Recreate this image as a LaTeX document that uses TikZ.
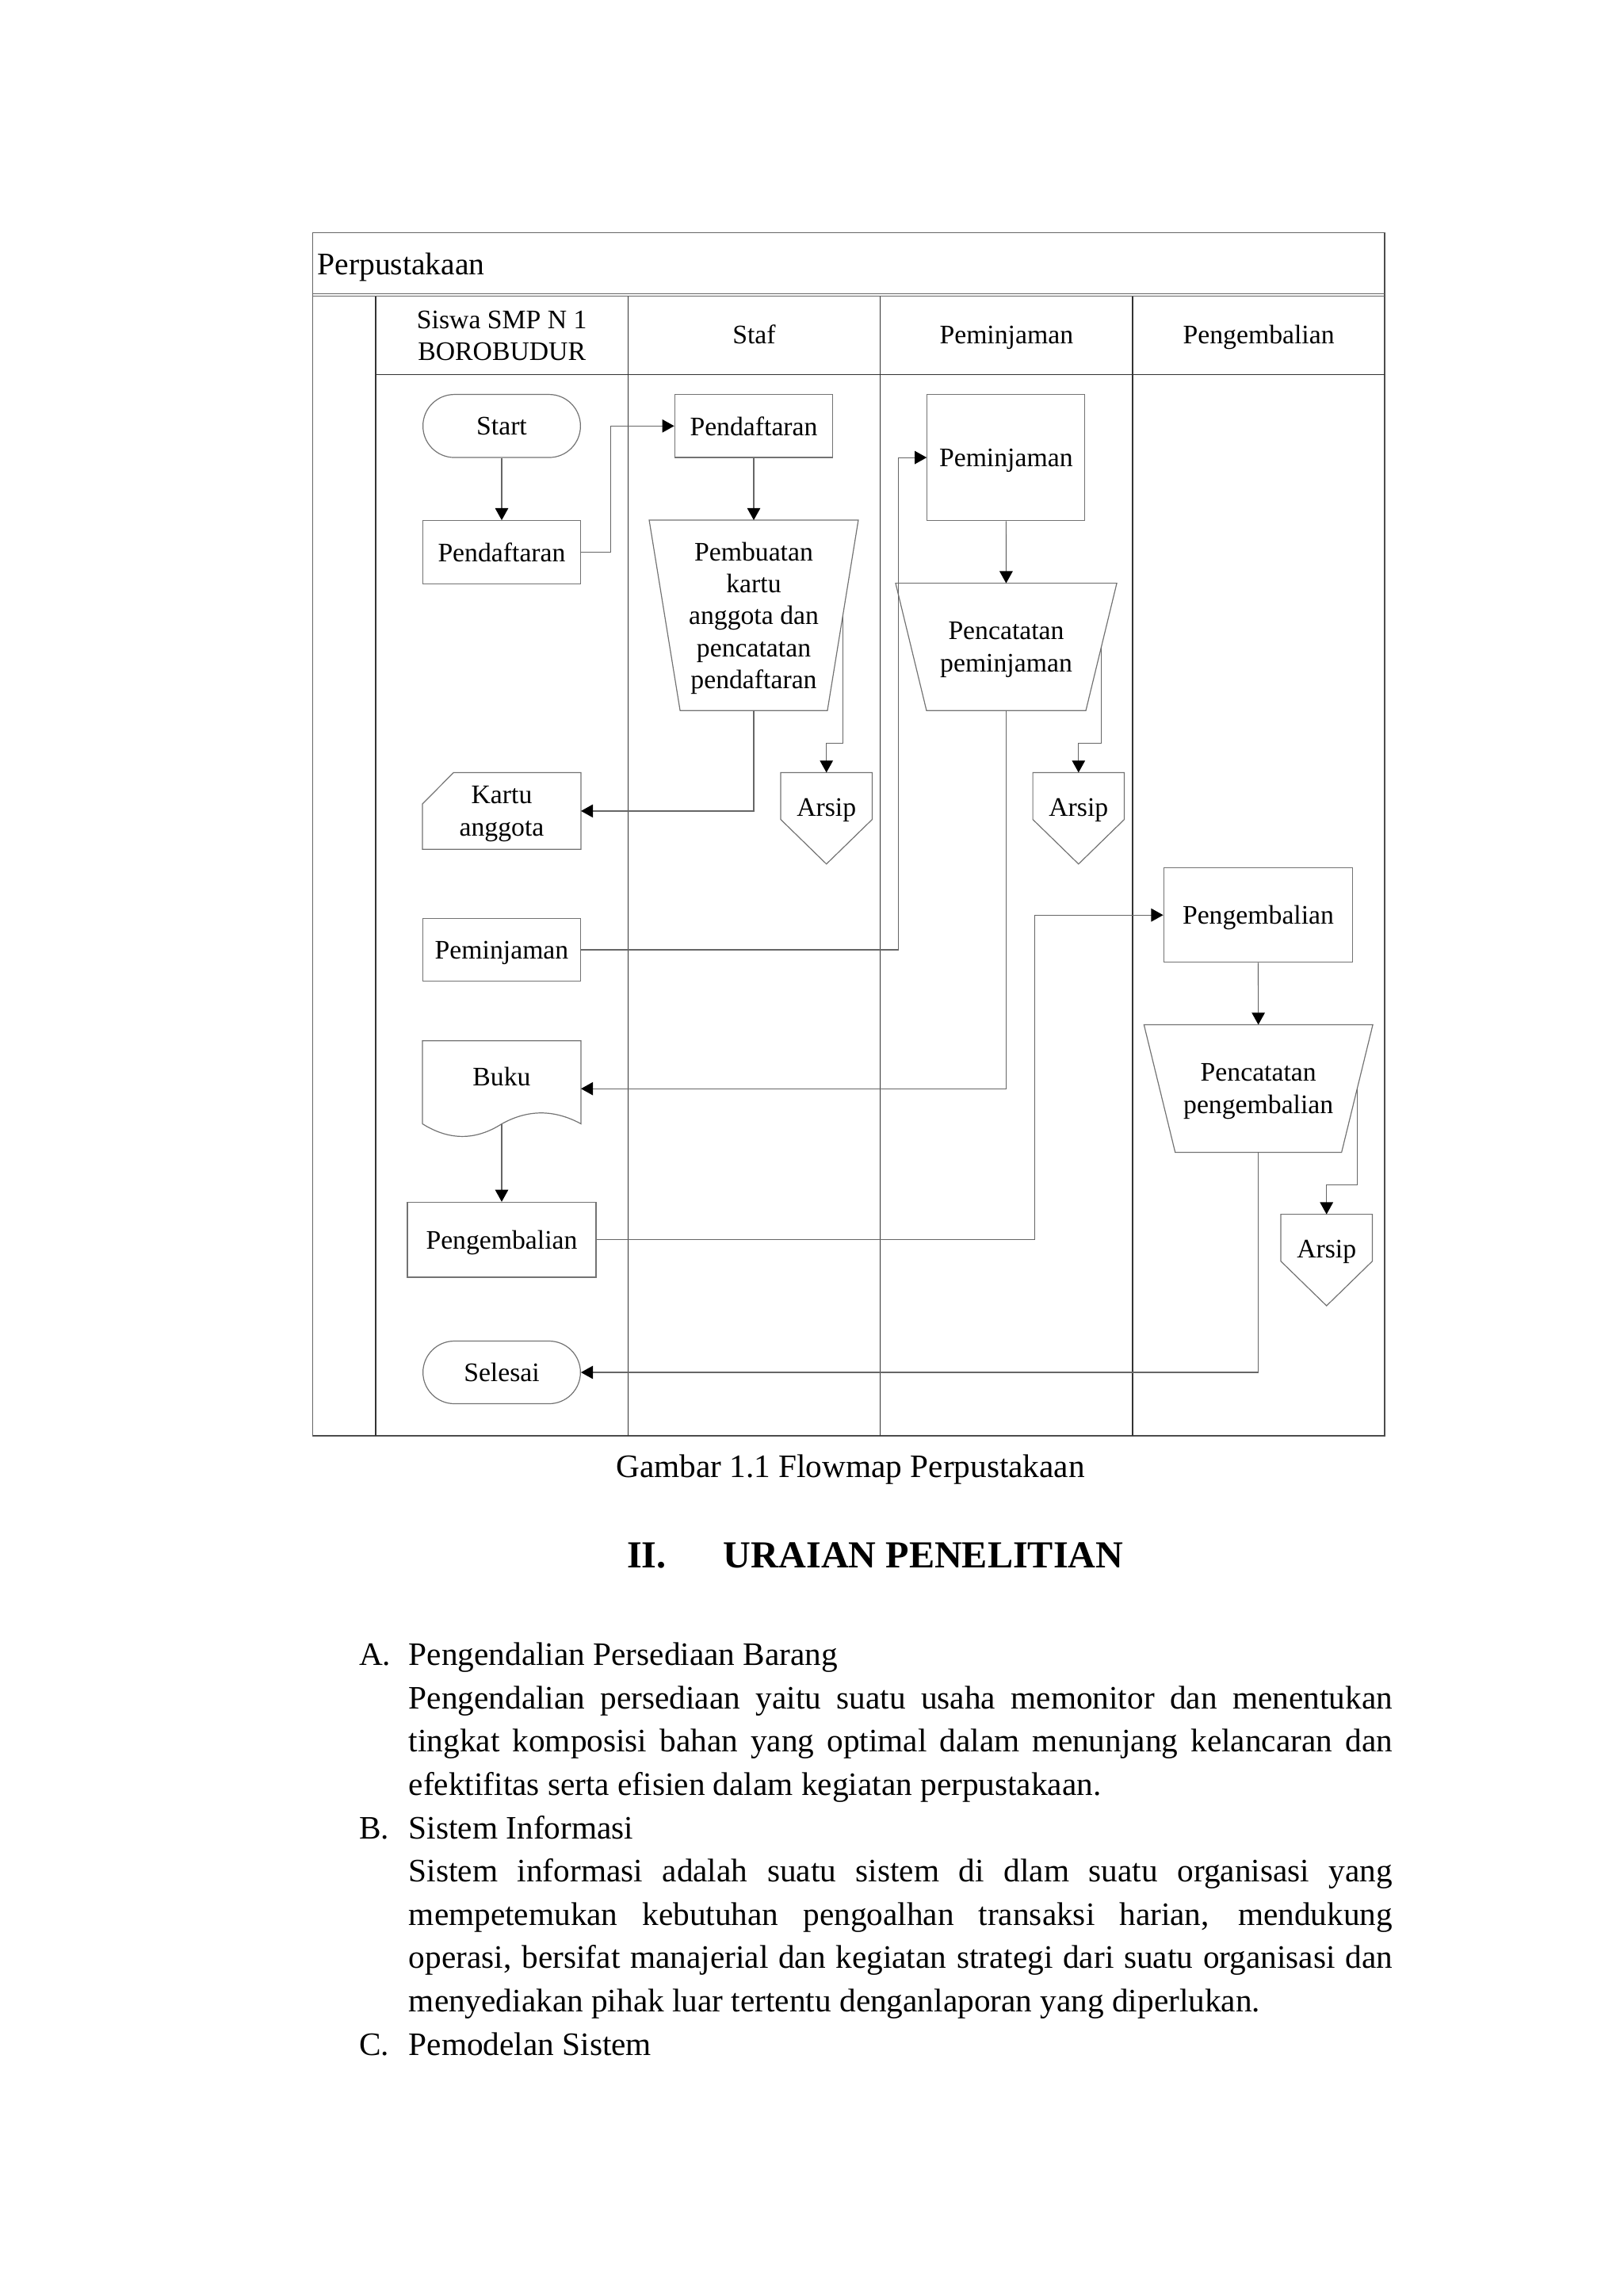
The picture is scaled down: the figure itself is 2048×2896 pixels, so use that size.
\documentclass[tikz,border=0pt]{standalone}
\usepackage{fontspec}
\setmainfont{Liberation Serif}
\usetikzlibrary{arrows.meta,calc}
\newcommand{\px}{0.29067pt}
\begin{document}
\begin{tikzpicture}[x=\px,y=-\px,
  shp/.style={draw=black!55,line width=0.35pt},
  lane/.style={draw=black!80,line width=0.45pt},
  frm/.style={draw=black!60,line width=0.45pt},
  conn/.style={draw=black!60,line width=0.35pt},
  arr/.style={conn,-{Triangle[length=4.4pt,width=4.8pt,color=black]}},
  txt/.style={font=\fontsize{9.8}{11.7}\selectfont,align=center,inner sep=0pt,text depth=0pt},
  box/.style={shp,rectangle,txt},
  term/.style={shp,rectangle,rounded corners=11.5pt,txt},
  ghost/.style={rectangle,inner sep=0pt,txt},
  body/.style={inner sep=0pt,font=\fontsize{12}{15.9}\selectfont,anchor=base west},
]
\useasboundingbox (0,0) rectangle (2048,2896);

% ---------- swimlane frame ----------
\draw[frm] (394.5,293.5) rectangle (1747,1811);
\draw[draw=black!70,line width=0.7pt] (394.5,1811) -- (1747,1811) -- (1747,293.5);
\draw[frm] (394.5,370.3) -- (1747,370.3);
\draw[frm] (394.5,373.5) -- (1747,373.5);
\draw[lane] (474,373.5) -- (474,1811);
\draw[lane] (792.3,373.5) -- (792.3,1811);
\draw[lane] (1110.6,373.5) -- (1110.6,1811);
\draw[lane] (1428.9,373.5) -- (1428.9,1811);
\draw[lane] (474,472.5) -- (1747,472.5);

\node[inner sep=0pt,anchor=west,text depth=0pt,font=\fontsize{11.5}{13}\selectfont] (title) at (400,333) {Perpustakaan};
\node[txt] (h1) at (633.2,423) {Siswa SMP N 1\\BOROBUDUR};
\node[txt] (h2) at (951.5,422) {Staf};
\node[txt] (h3) at (1269.8,422) {Peminjaman};
\node[txt] (h4) at (1588.1,422) {Pengembalian};

% ---------- lane 1 ----------
\node[term,minimum width={198.7*\px},minimum height={79.5*\px}] (start) at (633,537.3) {Start};
\node[box,minimum width={198.7*\px},minimum height={79.6*\px}] (daftar1) at (633,696.5) {Pendaftaran};
\node[ghost,minimum width={198.7*\px},minimum height={95.5*\px}] (kartu) at (633,1022.9) {Kartu\\anggota};
\draw[shp] ($(kartu.north west)+(39.3,0)$) -- (kartu.north east) -- (kartu.south east) -- (kartu.south west) -- ($(kartu.north west)+(0,39.6)$) -- cycle;
\node[box,minimum width={198.7*\px},minimum height={79.4*\px}] (pinjam1) at (633,1198) {Peminjaman};
\node[ghost,minimum width={198.7*\px},minimum height={119.4*\px}] (buku) at (633,1373.2) {};
\draw[shp] ($(buku.south west)+(0,-16.1)$) -- (buku.north west) -- (buku.north east) -- ($(buku.south east)+(0,-16.1)$)
  .. controls ($(buku.south)+(66.2,-34.4)$) and ($(buku.south)+(33.1,-34.4)$) .. ($(buku.south)+(0,-16)$)
  .. controls ($(buku.south)+(-33.1,5.1)$) and ($(buku.south)+(-66.2,5.1)$) .. ($(buku.south west)+(0,-16.1)$);
\node[txt] (bukut) at (633,1358) {Buku};
\node[box,minimum width={238*\px},minimum height={94.6*\px}] (kembali1) at (633,1563.7) {Pengembalian};
\node[term,minimum width={198.7*\px},minimum height={79*\px}] (selesai) at (633,1731) {Selesai};

% ---------- lane 2 ----------
\node[box,minimum width={199.5*\px},minimum height={79.5*\px}] (daftar2) at (951,537.3) {Pendaftaran};
\node[ghost,minimum width={262.5*\px},minimum height={238.8*\px}] (buat) at (951,776.1) {Pembuatan\\kartu\\anggota dan\\pencatatan\\pendaftaran};
\draw[shp] (buat.north west) -- (buat.north east) -- ($(buat.south east)+(-39,0)$) -- ($(buat.south west)+(39,0)$) -- cycle;
\node[ghost,minimum width={114*\px},minimum height={114*\px}] (arsip1) at (1042.7,1032.1) {};
\draw[shp] (arsip1.north west) -- (arsip1.north east) -- ($(arsip1.east)+(0,1.5)$) -- (arsip1.south) -- ($(arsip1.west)+(0,1.5)$) -- cycle;
\node[txt] (arsip1t) at (1042.7,1018.5) {Arsip};

% ---------- lane 3 ----------
\node[box,minimum width={199*\px},minimum height={159.1*\px}] (pinjam2) at (1269.3,577.1) {Peminjaman};
\node[ghost,minimum width={277.7*\px},minimum height={159.2*\px}] (catat1) at (1269.5,815.9) {Pencatatan\\peminjaman};
\draw[shp] (catat1.north west) -- (catat1.north east) -- ($(catat1.south east)+(-39,0)$) -- ($(catat1.south west)+(39,0)$) -- cycle;
\node[ghost,minimum width={114*\px},minimum height={114*\px}] (arsip2) at (1360.8,1032.1) {};
\draw[shp] (arsip2.north west) -- (arsip2.north east) -- ($(arsip2.east)+(0,1.5)$) -- (arsip2.south) -- ($(arsip2.west)+(0,1.5)$) -- cycle;
\node[txt] (arsip2t) at (1360.8,1018.5) {Arsip};

% ---------- lane 4 ----------
\node[box,minimum width={238.6*\px},minimum height={118.9*\px}] (kembali2) at (1587.5,1154.2) {Pengembalian};
\node[ghost,minimum width={287.4*\px},minimum height={159.6*\px}] (catat2) at (1587.7,1372.9) {Pencatatan\\pengembalian};
\draw[shp] (catat2.north west) -- (catat2.north east) -- ($(catat2.south east)+(-39.4,0)$) -- ($(catat2.south west)+(39.4,0)$) -- cycle;
\node[ghost,minimum width={114*\px},minimum height={114*\px}] (arsip3) at (1673.7,1589.3) {};
\draw[shp] (arsip3.north west) -- (arsip3.north east) -- ($(arsip3.east)+(0,1.5)$) -- (arsip3.south) -- ($(arsip3.west)+(0,1.5)$) -- cycle;
\node[txt] (arsip3t) at (1673.7,1575) {Arsip};

% ---------- connectors ----------
\coordinate (j0) at (770.4,0);
\coordinate (j2) at (1133.3,0);
\coordinate (j3) at (1305.4,0);
\coordinate (jA) at (0,937.1);
\coordinate (jB) at (0,1494.5);
\coordinate (buatR) at ($(buat.east)+(-19.5,0)$);
\coordinate (catat1R) at ($(catat1.east)+(-19.5,0)$);
\coordinate (catat2R) at ($(catat2.east)+(-19.7,0)$);
\coordinate (bukuB) at ($(buku.south)+(0,-16)$);

\draw[arr] (start) -- (daftar1);
\draw[arr] (daftar1.east) -- (daftar1.east -| j0) |- (daftar2.west);
\draw[arr] (daftar2) -- (buat);
\draw[arr] (buat.south) |- (kartu.east);
\draw[arr] (buatR) -- (buatR |- jA) -| (arsip1.north);
\draw[arr] (pinjam1.east) -- (pinjam1.east -| j2) |- (pinjam2.west);
\draw[arr] (pinjam2) -- (catat1);
\draw[arr] (catat1R) -- (catat1R |- jA) -| (arsip2.north);
\draw[arr] (catat1.south) |- (buku.east);
\draw[arr] (bukuB) -- (kembali1.north);
\draw[arr] (kembali1.east) -- (kembali1.east -| j3) |- (kembali2.west);
\draw[arr] (kembali2) -- (catat2);
\draw[arr] (catat2R) -- (catat2R |- jB) -| (arsip3.north);
\draw[arr] (catat2.south) |- (selesai.east);

% ---------- text below ----------
\node[inner sep=0pt,anchor=base,font=\fontsize{12}{14}\selectfont] (cap) at (1073,1863.7) {Gambar 1.1 Flowmap Perpustakaan};
\node[inner sep=0pt,anchor=base west,font=\bfseries\fontsize{14}{16}\selectfont] (sec) at (790.4,1977) {II.};
\node[inner sep=0pt,anchor=base west,font=\bfseries\fontsize{14}{16}\selectfont] (sect) at (912.3,1977) {URAIAN PENELITIAN};

\node[body] (la) at (452.4,2100.7) {A.};
\node[body] (l1) at (515.2,2100.7) {Pengendalian Persediaan Barang};
\node[body] (l2) at (515.2,2155.3) {\makebox[360.7pt][s]{Pengendalian persediaan yaitu suatu usaha memonitor dan menentukan}};
\node[body] (l3) at (515.2,2209.9) {\makebox[360.7pt][s]{tingkat komposisi bahan yang optimal dalam menunjang kelancaran dan}};
\node[body] (l4) at (515.2,2264.5) {efektifitas serta efisien dalam kegiatan perpustakaan.};
\node[body] (lb) at (452.4,2319.1) {B.};
\node[body] (l5) at (515.2,2319.1) {Sistem Informasi};
\node[body] (l6) at (515.2,2373.7) {\makebox[360.7pt][s]{Sistem informasi adalah suatu sistem di dlam suatu organisasi yang}};
\node[body] (l7) at (515.2,2428.3) {\makebox[360.7pt][s]{mempetemukan kebutuhan pengoalhan transaksi harian, mendukung}};
\node[body] (l8) at (515.2,2482.9) {\makebox[360.7pt][s]{operasi, bersifat manajerial dan kegiatan strategi dari suatu organisasi dan}};
\node[body] (l9) at (515.2,2537.5) {menyediakan pihak luar tertentu denganlaporan yang diperlukan.};
\node[body] (lc) at (452.4,2592.1) {C.};
\node[body] (l10) at (515.2,2592.1) {Pemodelan Sistem};
\end{tikzpicture}
\end{document}
